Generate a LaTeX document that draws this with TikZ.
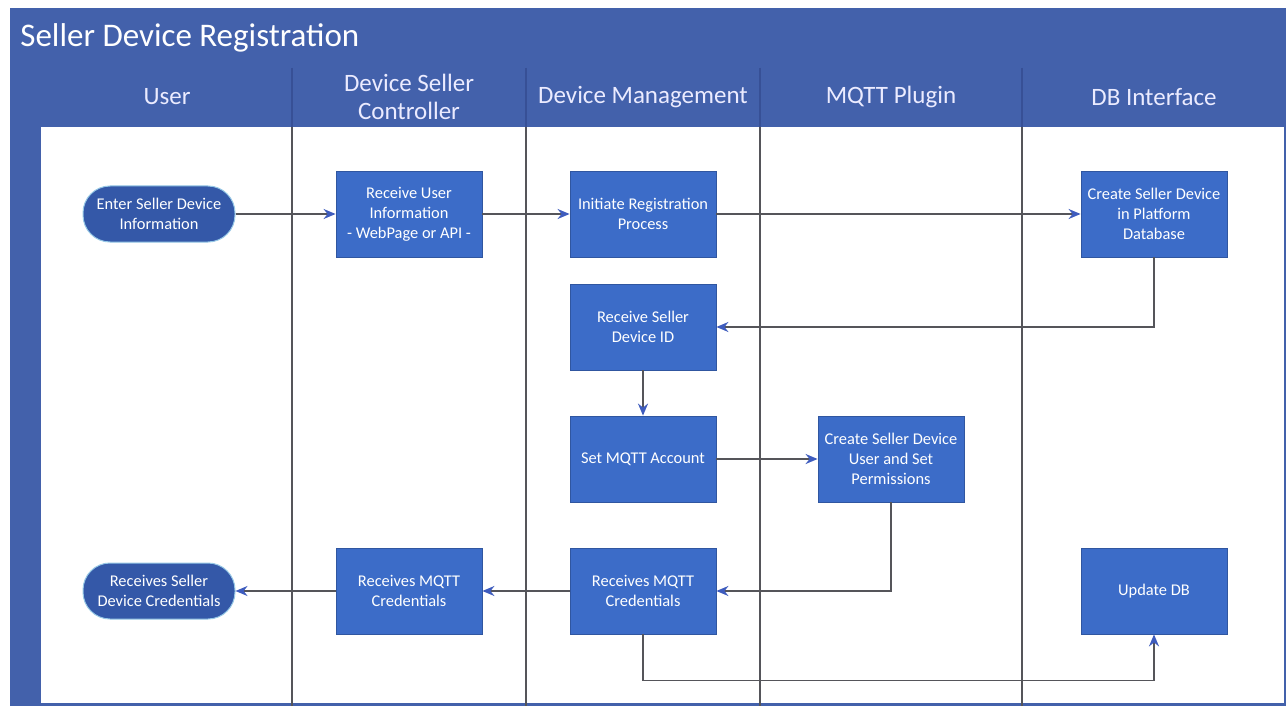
\documentclass[tikz,border=0pt]{standalone}
\usepackage{fontspec}
\setmainfont{Carlito}
\usepackage{tikz}
\definecolor{frame}{RGB}{67, 97, 171}
\definecolor{box}{RGB}{60, 108, 200}
\definecolor{pill}{RGB}{52, 88, 168}
\definecolor{rim}{RGB}{150, 200, 230}
\definecolor{wire}{RGB}{85, 85, 90}
\definecolor{tip}{RGB}{62, 92, 190}
\definecolor{lane}{RGB}{55, 80, 150}
\usetikzlibrary{positioning}
\usetikzlibrary{arrows.meta}

\begin{document}
\begin{tikzpicture}
			[x=0.5pt,y=-0.5pt,every node/.style={inner sep=0pt},
			stepbox/.style={rectangle, minimum width=73pt, minimum height=43pt, fill=box, draw=box!80!black, line width=0.4pt, text=white, align=center, font=\fontsize{8.2}{10}\selectfont},
			endpill/.style={rectangle, rounded corners=13.5pt, minimum width=76pt, minimum height=28pt, fill=pill, draw=rim, line width=0.5pt, text=white, align=center, font=\fontsize{8.2}{10}\selectfont},
			lanetitle/.style={text=white!92!blue, align=center, font=\fontsize{12.5}{14}\selectfont},
			flow/.style={line width=0.9pt, color=wire, -{Stealth[length=6pt,width=5pt,color=tip]}}]
			\useasboundingbox (0,0) rectangle (1286,706);
			% frame and lanes
			\fill [color=frame] (10,8) rectangle (1286,706);
			\fill [color=white] (41,127) rectangle (1284,703);
			\foreach \x in {292,526,760,1022}
			{
				\draw [line width=1pt, color=lane] (\x,68) -- (\x,127);
				\draw [line width=0.8pt, color=wire] (\x,127) -- (\x,706);
			}
			\node (title) [anchor=west, text=white, font=\fontsize{16.5}{18}\selectfont] at (20,38) {Seller Device Registration};
			\node (user) [lanetitle] at (167,97) {User};
			\node (ctrl) [lanetitle] at (409,97) {Device Seller\\Controller};
			\node (mgmt) [lanetitle] at (643,97) {Device Management};
			\node (mqtt) [lanetitle] at (891,97) {MQTT Plugin};
			\node (dbif) [lanetitle] at (1154,97) {DB Interface};
			% steps
			\node (enter) [endpill] at (159,214) {Enter Seller Device\\Information};
			\node (recvuser) [stepbox] at (409,214) {Receive User\\Information\\- WebPage or API -};
			\node (initreg) [stepbox] at (643,214) {Initiate Registration\\Process};
			\node (dbcreate) [stepbox] at (1154,214) {Create Seller Device\\in Platform\\Database};
			\node (devid) [stepbox] at (643,327) {Receive Seller\\Device ID};
			\node (setacct) [stepbox] at (643,459) {Set MQTT Account};
			\node (mqttuser) [stepbox] at (891,459) {Create Seller Device\\User and Set\\Permissions};
			\node (dmcred) [stepbox] at (643,591) {Receives MQTT\\Credentials};
			\node (ctrlcred) [stepbox] at (409,591) {Receives MQTT\\Credentials};
			\node (usercred) [endpill] at (159,591) {Receives Seller\\Device Credentials};
			\node (updatedb) [stepbox] at (1154,591) {Update DB};
			% flow
			\draw [flow] (enter) to (recvuser);
			\draw [flow] (recvuser) to (initreg);
			\draw [flow] (initreg) to (dbcreate);
			\draw [flow] (dbcreate.south) |- (devid.east);
			\draw [flow] (devid) to (setacct);
			\draw [flow] (setacct) to (mqttuser);
			\draw [flow] (mqttuser.south) |- (dmcred.east);
			\draw [flow] (dmcred) to (ctrlcred);
			\draw [flow] (ctrlcred) to (usercred);
			\draw [flow] (dmcred.south) -- ++(0,46) -| (updatedb.south);
		\end{tikzpicture}
\end{document}
